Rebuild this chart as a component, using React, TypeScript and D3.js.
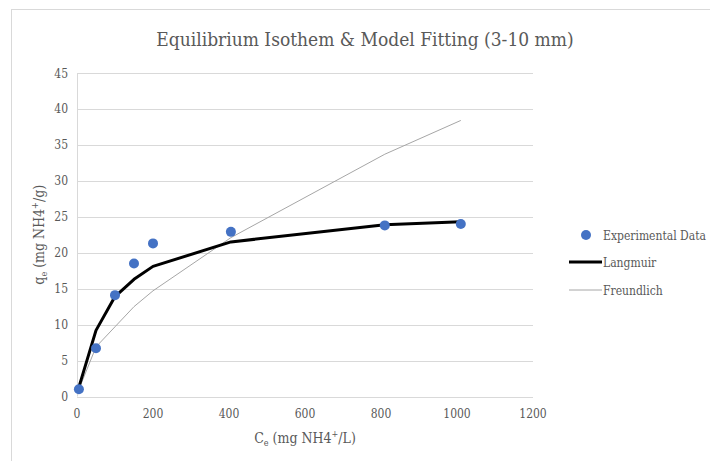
import * as d3 from 'd3';

const ceValues = [5, 50, 100, 150, 200, 405, 810, 1010];
const qeExperimental = [1.0, 6.7, 14.1, 18.5, 21.3, 22.9, 23.8, 24.0];
const qeLangmuir = [1.3, 9.2, 13.9, 16.3, 18.1, 21.5, 23.9, 24.3];
const qeFreundlich = [1.0, 6.9, 9.7, 12.5, 14.7, 22.1, 33.7, 38.4];
const xTicks = [0, 200, 400, 600, 800, 1000, 1200];
const yTicks = [0, 5, 10, 15, 20, 25, 30, 35, 40, 45];

const W = 710;
const H = 461;
const margin = { left: 77, right: 177, top: 73, bottom: 64.5 };
// Times-like serif is not available; condensed DejaVu Serif is the closest
const font = "'DejaVu Serif Condensed', 'DejaVu Serif'";
const textColor = '#595959';

const App = () => {
  const x = d3
    .scaleLinear()
    .domain([0, 1200])
    .range([margin.left, W - margin.right]);
  const y = d3
    .scaleLinear()
    .domain([0, 45])
    .range([H - margin.bottom, margin.top]);

  const pts = ceValues.map((c, i) => ({ c, exp: qeExperimental[i], lang: qeLangmuir[i], fr: qeFreundlich[i] }));
  const langLine = d3
    .line<(typeof pts)[number]>()
    .x((d) => x(d.c))
    .y((d) => y(d.lang));
  const frLine = d3
    .line<(typeof pts)[number]>()
    .x((d) => x(d.c))
    .y((d) => y(d.fr));

  return (
    <svg
      width={W}
      height={H}
      style={{ position: 'absolute', left: 0, top: 0, background: '#fff', fontFamily: font }}
    >
      {/* chart frame */}
      <rect x={11.5} y={9.5} width={W} height={H} fill="#fff" stroke="#d9d9d9" />

      <text x={365} y={46} textAnchor="middle" fontSize={19} fill={textColor}>
        Equilibrium Isothem &amp; Model Fitting (3-10 mm)
      </text>

      {/* gridlines */}
      {yTicks.map((t) => (
        <line
          key={'g' + t}
          x1={x(0)}
          x2={x(1200)}
          y1={Math.round(y(t)) + 0.5}
          y2={Math.round(y(t)) + 0.5}
          stroke="#d9d9d9"
          strokeWidth={1}
        />
      ))}
      <line x1={x(0) + 0.5} x2={x(0) + 0.5} y1={y(45)} y2={y(0)} stroke="#d9d9d9" />

      {/* y tick labels */}
      {yTicks.map((t) => (
        <text key={'y' + t} x={68} y={y(t) + 4.5} textAnchor="end" fontSize={12} fill={textColor}>
          {t}
        </text>
      ))}
      {/* x tick labels */}
      {xTicks.map((t) => (
        <text key={'x' + t} x={x(t)} y={418} textAnchor="middle" fontSize={12} fill={textColor}>
          {t}
        </text>
      ))}

      {/* axis titles */}
      <text x={305} y={443} textAnchor="middle" fontSize={14} fill={textColor}>
        C<tspan fontSize={9} dy={3}>e</tspan>
        <tspan dy={-3}> (mg NH4</tspan>
        <tspan fontSize={9} dy={-6}>+</tspan>
        <tspan dy={6}>/L)</tspan>
      </text>
      <text
        transform={`translate(44,${y(22.5)}) rotate(-90)`}
        textAnchor="middle"
        fontSize={14}
        fill={textColor}
      >
        q<tspan fontSize={9} dy={3}>e</tspan>
        <tspan dy={-3}> (mg NH4</tspan>
        <tspan fontSize={9} dy={-6}>+</tspan>
        <tspan dy={6}>/g)</tspan>
      </text>

      {/* series */}
      <path d={frLine(pts) ?? ''} fill="none" stroke="#a6a6a6" strokeWidth={1} />
      <path d={langLine(pts) ?? ''} fill="none" stroke="#000" strokeWidth={3} strokeLinejoin="round" />
      {pts.map((d) => (
        <circle key={'p' + d.c} cx={x(d.c)} cy={y(d.exp)} r={5} fill="#4472c4" />
      ))}

      {/* legend */}
      <circle cx={586} cy={235} r={5} fill="#4472c4" />
      <text x={603} y={240} fontSize={12} fill={textColor}>
        Experimental Data
      </text>
      <line x1={569} x2={602} y1={262} y2={262} stroke="#000" strokeWidth={3} />
      <text x={603} y={267} fontSize={12} fill={textColor}>
        Langmuir
      </text>
      <line x1={569} x2={602} y1={290} y2={290} stroke="#a6a6a6" strokeWidth={1} />
      <text x={603} y={295} fontSize={12} fill={textColor}>
        Freundlich
      </text>
    </svg>
  );
};

export default App;
